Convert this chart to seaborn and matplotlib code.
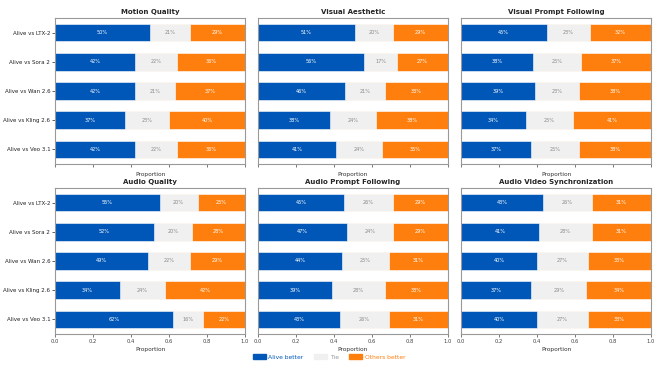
#!/usr/bin/env python
import numpy as np
import pandas as pd
import matplotlib

matplotlib.use("Agg")
import matplotlib.pyplot as plt
import seaborn as sns
from matplotlib.patches import Patch

# Pairwise preference results (percent), one row per comparison.
models = ["Alive vs LTX-2", "Alive vs Sora 2", "Alive vs Wan 2.6",
          "Alive vs Kling 2.6", "Alive vs Veo 3.1"]
titles = ["Motion Quality", "Visual Aesthetic", "Visual Prompt Following",
          "Audio Quality", "Audio Prompt Following", "Audio Video Synchronization"]

alive_better = [
    [50, 42, 42, 37, 42],
    [51, 56, 46, 38, 41],
    [45, 38, 39, 34, 37],
    [55, 52, 49, 34, 62],
    [45, 47, 44, 39, 43],
    [43, 41, 40, 37, 40],
]
tie = [
    [21, 22, 21, 23, 22],
    [20, 17, 21, 24, 24],
    [23, 25, 23, 25, 25],
    [20, 20, 22, 24, 16],
    [26, 24, 25, 28, 26],
    [26, 28, 27, 29, 27],
]
others_better = [
    [29, 36, 37, 40, 36],
    [29, 27, 33, 38, 35],
    [32, 37, 38, 41, 38],
    [25, 28, 29, 42, 22],
    [29, 29, 31, 33, 31],
    [31, 31, 33, 34, 33],
]

BLUE = "#0057b8"
GREY = "#f0f0f0"
ORANGE = "#ff7f0e"

sns.set_style("white")
plt.rcParams["font.family"] = ["DejaVu Sans"]

fig = plt.figure(figsize=(6.58, 3.72), dpi=100)
lefts = [55 / 658, 258 / 658, 461 / 658]
bottoms = [1 - 164 / 372, 1 - 334 / 372]
w, h = 190 / 658, 146 / 372

for i, title in enumerate(titles):
    row, col = divmod(i, 3)
    ax = fig.add_axes([lefts[col], bottoms[row], w, h])

    df = pd.DataFrame({
        "model": models,
        "alive": np.array(alive_better[i]) / 100,
        "tie": np.array(tie[i]) / 100,
        "others": np.array(others_better[i]) / 100,
    })
    df["c_tie"] = df["alive"] + df["tie"]
    df["c_all"] = df["c_tie"] + df["others"]

    # stacked bars: draw cumulative totals back to front
    for col_name, color in [("c_all", ORANGE), ("c_tie", GREY), ("alive", BLUE)]:
        sns.barplot(data=df, x=col_name, y="model", color=color, orient="h",
                    width=0.6, saturation=1, edgecolor="white", linewidth=0.4,
                    ax=ax)

    for j, r in df.iterrows():
        ax.text(r["alive"] / 2, j, f"{alive_better[i][j]}%", ha="center",
                va="center", color="white", fontsize=3.6)
        ax.text(r["alive"] + r["tie"] / 2, j, f"{tie[i][j]}%", ha="center",
                va="center", color="#8a8a8a", fontsize=3.6)
        ax.text(r["c_tie"] + r["others"] / 2, j, f"{others_better[i][j]}%",
                ha="center", va="center", color="white", fontsize=3.6)

    ax.set_xlim(0, 1)
    ax.set_ylim(4.5, -0.5)
    ax.set_xticks([0, 0.2, 0.4, 0.6, 0.8, 1.0])
    ax.set_title(title, fontsize=5.0, fontweight="bold", pad=3)
    ax.set_xlabel("Proportion", fontsize=4.2, labelpad=2, color="#333333")
    ax.set_ylabel("")
    ax.tick_params(axis="x", labelsize=3.8, length=2, width=0.5, pad=1.5,
                   colors="#444444", bottom=True)
    ax.tick_params(axis="y", labelsize=4.0, length=2, width=0.5, pad=1.5,
                   left=True, colors="#222222")
    if row == 0:
        ax.set_xticklabels([])
    if col != 0:
        ax.set_yticklabels([])
        ax.tick_params(axis="y", left=False)
    for s in ax.spines.values():
        s.set_color("#999999")
        s.set_linewidth(0.8)

handles = [Patch(color=BLUE, label="Alive better"),
           Patch(color=GREY, label="Tie"),
           Patch(color=ORANGE, label="Others better")]
leg = fig.legend(handles=handles, loc="center", bbox_to_anchor=(0.5, 1 - 357 / 372),
                 ncol=3, frameon=False, fontsize=4.3, handlelength=2.2,
                 handleheight=0.7, handletextpad=0.4, columnspacing=1.8)
for t, c in zip(leg.get_texts(), [BLUE, "#999999", ORANGE]):
    t.set_color(c)

fig.savefig("out.png", dpi=100)
